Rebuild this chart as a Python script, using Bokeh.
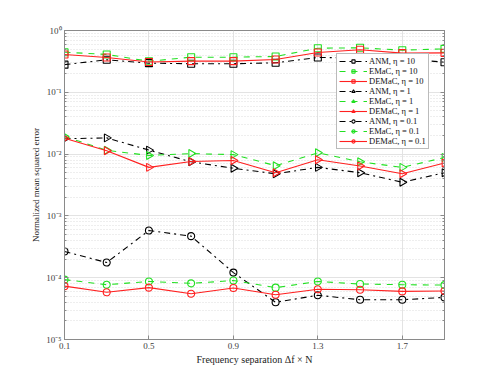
import numpy as np
from bokeh.plotting import figure
from bokeh.models import (FixedTicker, LogTicker, LogAxis, CustomJSTickFormatter,
                          Range1d)
from bokeh.embed import file_html
from bokeh.resources import INLINE

# ---------------- data ----------------
sep = [0.1, 0.3, 0.5, 0.7, 0.9, 1.1, 1.3, 1.5, 1.7, 1.9]

anm_10   = [0.28, 0.336, 0.296, 0.29, 0.29, 0.30, 0.366, 0.36, 0.35, 0.307]
emac_10  = [0.445, 0.41, 0.318, 0.37, 0.37, 0.38, 0.517, 0.525, 0.48, 0.505]
demac_10 = [0.41, 0.366, 0.31, 0.32, 0.32, 0.34, 0.44, 0.487, 0.43, 0.435]

anm_1   = [0.0177, 0.0183, 0.0116, 0.0075, 0.0059, 0.0048, 0.0061, 0.0050, 0.0035, 0.0050]
emac_1  = [0.0193, 0.0115, 0.0095, 0.0102, 0.0098, 0.0065, 0.0105, 0.0075, 0.0061, 0.0088]
demac_1 = [0.0180, 0.0113, 0.0061, 0.0076, 0.0079, 0.0050, 0.0081, 0.0064, 0.0048, 0.0072]

anm_01   = [2.65e-4, 1.76e-4, 5.8e-4, 4.7e-4, 1.21e-4, 4.0e-5, 5.2e-5, 4.4e-5, 4.4e-5, 4.8e-5]
emac_01  = [9.3e-5, 7.7e-5, 8.7e-5, 8.1e-5, 9.0e-5, 6.9e-5, 8.7e-5, 7.9e-5, 7.7e-5, 7.6e-5]
demac_01 = [7.3e-5, 5.8e-5, 6.9e-5, 5.5e-5, 6.8e-5, 5.3e-5, 6.5e-5, 6.4e-5, 6.0e-5, 6.1e-5]

x_ticks = [0.1, 0.5, 0.9, 1.3, 1.7]
x_label = "Frequency separation Δf × N"
y_label = "Normalized mean squared error"

series = [
    ("ANM, η = 10", anm_10, "black", "dashdot", "square"),
    ("EMaC, η = 10", emac_10, "#22e022", "dashed", "square"),
    ("DEMaC, η = 10", demac_10, "#ff2020", "solid", "square"),
    ("ANM, η = 1", anm_1, "black", "dashdot", "triangle"),
    ("EMaC, η = 1", emac_1, "#22e022", "dashed", "triangle"),
    ("DEMaC, η = 1", demac_1, "#ff2020", "solid", "triangle"),
    ("ANM, η = 0.1", anm_01, "black", "dashdot", "circle"),
    ("EMaC, η = 0.1", emac_01, "#22e022", "dashed", "circle"),
    ("DEMaC, η = 0.1", demac_01, "#ff2020", "solid", "circle"),
]

FONT = "Liberation Serif"
AX = "#8a8a8a"
TXT = "#404040"

p = figure(frame_width=380, frame_height=309, y_axis_type="log",
           x_range=Range1d(0.1, 1.9), y_range=Range1d(1e-5, 1),
           output_backend="svg", toolbar_location=None,
           min_border_left=64, min_border_top=30, min_border_right=16,
           min_border_bottom=30)
p.outline_line_color = AX
p.background_fill_color = "white"

sup_js = """
const e = Math.round(Math.log10(tick));
const sup = {'-':'\u207b','0':'\u2070','1':'\u00b9','2':'\u00b2','3':'\u00b3','4':'\u2074','5':'\u2075'};
return '10' + String(e).split('').map(c => sup[c]).join('');
"""

# axes
p.xaxis.ticker = FixedTicker(ticks=x_ticks)
p.xaxis.formatter = CustomJSTickFormatter(code="return tick.toFixed(1);")
p.yaxis.ticker = LogTicker(num_minor_ticks=10)
p.yaxis.formatter = CustomJSTickFormatter(code=sup_js)
for ax in (p.xaxis[0], p.yaxis[0]):
    ax.axis_line_color = AX
    ax.major_tick_line_color = AX
    ax.minor_tick_line_color = AX
    ax.major_tick_in = 4
    ax.major_tick_out = 0
    ax.minor_tick_in = 2
    ax.minor_tick_out = 0
    ax.major_label_text_font = FONT
    ax.major_label_text_font_size = "9px"
    ax.major_label_text_color = TXT
    ax.axis_label_text_font = FONT
    ax.axis_label_text_font_style = "normal"
    ax.axis_label_text_color = "#222222"
    ax.major_label_standoff = 3
    ax.axis_label_standoff = 2
p.xaxis.minor_tick_line_color = None
p.xaxis.axis_label = x_label
p.yaxis.axis_label = y_label
p.xaxis.axis_label_text_font_size = "10px"
p.yaxis.axis_label_text_font_size = "9px"

right_ax = LogAxis(ticker=LogTicker(num_minor_ticks=10), axis_line_color=AX,
                   major_tick_line_color=AX, minor_tick_line_color=AX,
                   major_tick_in=4, major_tick_out=0, minor_tick_in=2, minor_tick_out=0,
                   major_label_text_font_size="1px", major_label_text_color=None,
                   major_label_standoff=0)
p.add_layout(right_ax, "right")

# grid
p.xgrid.grid_line_color = "#e3e3e3"
p.ygrid.grid_line_color = "#e3e3e3"
p.ygrid.minor_grid_line_color = "#dcdcdc"
p.ygrid.minor_grid_line_dash = "1 2"

for label, vals, color, dash, marker in series:
    p.line(sep, vals, line_color=color, line_dash=dash, line_width=1.1, legend_label=label)
    kw = {}
    if marker == "triangle":
        kw["angle"] = -np.pi / 2
    p.scatter(sep, vals, marker=marker, size=7 if marker != "triangle" else 8,
              fill_color=None, line_color=color, line_width=1.1, legend_label=label, **kw)

leg = p.legend[0]
leg.location = (272, 190)
leg.label_text_font = FONT
leg.label_text_font_size = "8.5px"
leg.label_text_line_height = 0.9
leg.label_text_color = "#111111"
leg.glyph_height = 8
leg.glyph_width = 28
leg.label_height = 8
leg.spacing = 0
leg.padding = 2
leg.margin = 0
leg.label_standoff = 2
leg.border_line_color = "#777777"
leg.background_fill_color = "white"
leg.background_fill_alpha = 1

open("out.html", "w").write(file_html(p, INLINE))
